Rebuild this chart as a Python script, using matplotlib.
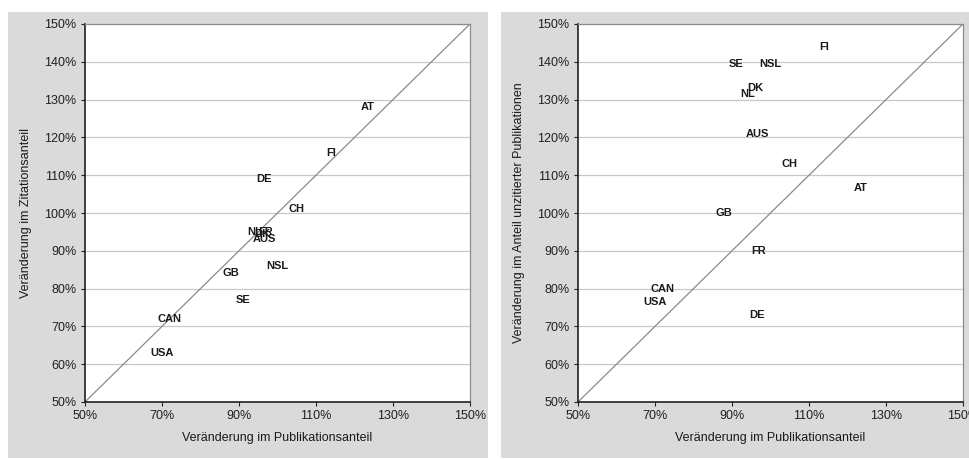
import matplotlib
matplotlib.use("Agg")
import matplotlib.pyplot as plt
from matplotlib.patches import Rectangle
from matplotlib.ticker import FuncFormatter

# ---- data (percent) ----
countries = ["USA", "CAN", "GB", "SE", "NL", "FR", "DK", "AUS", "DE", "NSL", "CH", "FI", "AT"]
pub_change = [70, 72, 88, 91, 94, 97, 96, 96.5, 96.5, 100, 105, 114, 123.5]
cit_change = [63, 72, 84, 77, 95, 95, 94.5, 93, 109, 86, 101, 116, 128]
uncited_change = [76.5, 80, 100, 139.5, 131.5, 90, 133, 121, 73, 139.5, 113, 144, 106.5]
axis_range = [50, 150]
xticks = [50, 70, 90, 110, 130, 150]
yticks = [50, 60, 70, 80, 90, 100, 110, 120, 130, 140, 150]

xlabel = "Veränderung im Publikationsanteil"
ylabels = ["Veränderung im Zitationsanteil", "Veränderung im Anteil unzitierter Publikationen"]

W, H = 970, 459
fig = plt.figure(figsize=(W / 100, H / 100), dpi=100)
fig.patch.set_facecolor("white")

tick_font = ["Liberation Sans Narrow", "Liberation Sans", "DejaVu Sans"]
lab_font = ["Liberation Sans", "DejaVu Sans"]
bg = "#dadada"

# gray panels
fig.patches.append(Rectangle((8 / W, 1 - 458 / H), 480 / W, 446 / H, transform=fig.transFigure,
                             facecolor=bg, edgecolor="none", zorder=-10))
fig.patches.append(Rectangle((501 / W, 1 - 458 / H), 480 / W, 446 / H, transform=fig.transFigure,
                             facecolor=bg, edgecolor="none", zorder=-10))

ax_lefts = [85, 578]
yseries = [cit_change, uncited_change]
ylabel_x = [32, 525]

for i in range(2):
    ax = fig.add_axes([ax_lefts[i] / W, 1 - 402 / H, 385 / W, 378 / H])
    ax.set_facecolor("white")
    ax.set_xlim(axis_range)
    ax.set_ylim(axis_range)
    ax.set_xticks(xticks)
    ax.set_yticks(yticks)
    fmt = FuncFormatter(lambda v, p: f"{v:.0f}%")
    ax.xaxis.set_major_formatter(fmt)
    ax.yaxis.set_major_formatter(fmt)
    ax.grid(axis="y", color="#c8c8c8", linewidth=0.9)
    ax.set_axisbelow(True)
    for s in ["top", "right"]:
        ax.spines[s].set_color("#8c8c8c")
        ax.spines[s].set_linewidth(0.9)
    for s in ["left", "bottom"]:
        ax.spines[s].set_color("#202020")
        ax.spines[s].set_linewidth(1.2)
    ax.tick_params(axis="both", direction="out", length=3, width=0.8, color="#202020",
                   labelsize=9, pad=3, labelcolor="#202020")
    for lab in ax.get_xticklabels() + ax.get_yticklabels():
        lab.set_family(tick_font)
    ax.plot(axis_range, axis_range, color="#8a8a8a", linewidth=0.9, zorder=2)
    for name, xv, yv in zip(countries, pub_change, yseries[i]):
        ax.text(xv, yv, name, ha="center", va="center", fontsize=8, fontweight="bold",
                family=lab_font, color="#1a1a1a", zorder=3)
    ax.set_xlabel(xlabel, family=tick_font, fontsize=9, color="#1a1a1a", labelpad=7)
    ax.set_ylabel(ylabels[i], family=tick_font, fontsize=9, color="#1a1a1a")
    ax.yaxis.set_label_coords((ylabel_x[i] - ax_lefts[i]) / 385, 0.5)

fig.savefig("out.png", dpi=100, facecolor="white")
